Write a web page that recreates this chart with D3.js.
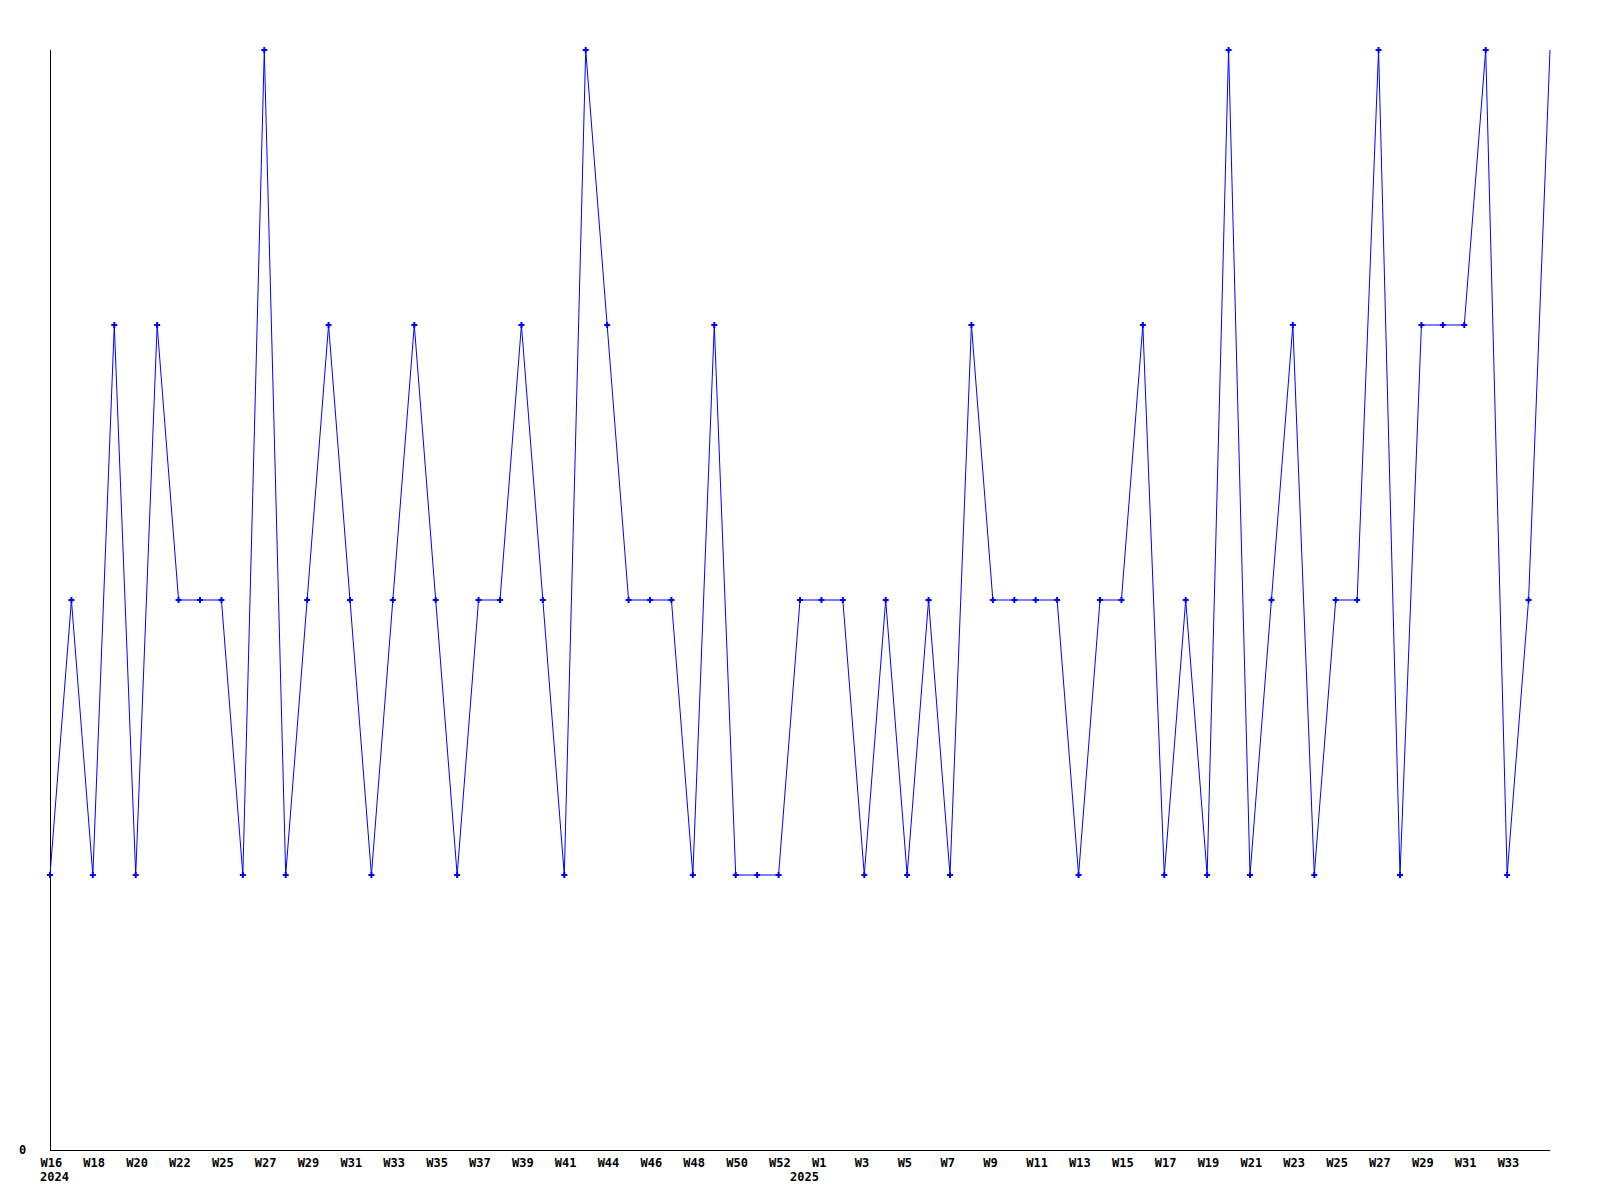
<!DOCTYPE html>
<html>
<head>
<meta charset="utf-8">
<script src="https://cdn.jsdelivr.net/npm/d3@7"></script>
<style>
  html, body { margin: 0; padding: 0; background: #fff; }
  svg { display: block; }
</style>
</head>
<body>
<svg id="chart" width="1600" height="1200"></svg>
<script>
// ---- data ----
const values = [
  1, 2, 1, 3, 1, 3, 2, 2, 2, 1,
  4, 1, 2, 3, 2, 1, 2, 3, 2, 1,
  2, 2, 3, 2, 1, 4, 3, 2, 2, 2,
  1, 3, 1, 1, 1, 2, 2, 2, 1, 2,
  1, 2, 1, 3, 2, 2, 2, 2, 1, 2,
  2, 3, 1, 2, 1, 4, 1, 2, 3, 1,
  2, 2, 4, 1, 3, 3, 3, 4, 1, 2,
  4
];
const tickIndex = [0, 2, 4, 6, 8, 10, 12, 14, 16, 18, 20, 22, 24, 26, 28, 30, 32, 34,
                   36, 38, 40, 42, 44, 46, 48, 50, 52, 54, 56, 58, 60, 62, 64, 66, 68];
const tickLabels = ["W16", "W18", "W20", "W22", "W25", "W27", "W29", "W31", "W33", "W35",
                    "W37", "W39", "W41", "W44", "W46", "W48", "W50", "W52",
                    "W1", "W3", "W5", "W7", "W9", "W11", "W13", "W15", "W17", "W19",
                    "W21", "W23", "W25", "W27", "W29", "W31", "W33"];
const yearIndex = [0, 35];
const yearLabels = ["2024", "2025"];
const yTicks = [0];

// ---- layout ----
const svg = d3.select("#chart");
const plotLeft = 50, plotRight = 1550, plotTop = 50, plotBottom = 1150;
const x = d3.scaleLinear().domain([0, values.length - 1]).range([plotLeft, plotRight]);
const y = d3.scaleLinear().domain([0, 4]).range([plotBottom, plotTop]);
const font = "'DejaVu Sans Mono', 'Liberation Mono', monospace";
const fontSize = "12px";

// axes lines
svg.append("line")
  .attr("x1", plotLeft + 0.5).attr("x2", plotLeft + 0.5)
  .attr("y1", plotTop).attr("y2", plotBottom + 0.5)
  .attr("stroke", "#000").attr("stroke-width", 1);
svg.append("line")
  .attr("x1", plotLeft).attr("x2", plotRight)
  .attr("y1", plotBottom + 0.5).attr("y2", plotBottom + 0.5)
  .attr("stroke", "#000").attr("stroke-width", 1);

// x tick labels
const xAxis = d3.axisBottom(x)
  .tickValues(tickIndex)
  .tickFormat((d, i) => tickLabels[i])
  .tickSize(0)
  .tickPadding(0);
const gx = svg.append("g").attr("transform", `translate(0,${plotBottom})`).call(xAxis);
gx.select(".domain").remove();
gx.selectAll("text")
  .attr("text-anchor", "start")
  .attr("dx", -10)
  .attr("dy", 0)
  .attr("y", 17)
  .attr("fill", "#000")
  .style("font-family", font)
  .style("font-size", fontSize)
  .style("font-weight", "bold");

// year labels
svg.append("g").selectAll("text")
  .data(yearIndex)
  .join("text")
  .attr("x", d => x(d) - 10)
  .attr("y", plotBottom + 31)
  .attr("text-anchor", "start")
  .attr("fill", "#000")
  .style("font-family", font)
  .style("font-size", fontSize)
  .style("font-weight", "bold")
  .text((d, i) => yearLabels[i]);

// y tick labels
svg.append("g").selectAll("text")
  .data(yTicks)
  .join("text")
  .attr("x", 19)
  .attr("y", d => y(d) + 4)
  .attr("fill", "#000")
  .style("font-family", font)
  .style("font-size", fontSize)
  .style("font-weight", "bold")
  .text(d => String(d));

// line
const line = d3.line()
  .x((d, i) => x(i))
  .y(d => y(d));
svg.append("path")
  .datum(values)
  .attr("d", line)
  .attr("fill", "none")
  .attr("stroke", "#0000ff")
  .attr("stroke-width", 1);

// markers (the last point sits on the plot edge and has no visible marker)
const marker = d3.symbol().type(d3.symbolCross).size(20);
svg.append("g").selectAll("path")
  .data(values.slice(0, values.length - 1))
  .join("path")
  .attr("transform", (d, i) => `translate(${x(i)},${y(d)})`)
  .attr("d", marker)
  .attr("fill", "#0000ff");
</script>
</body>
</html>
